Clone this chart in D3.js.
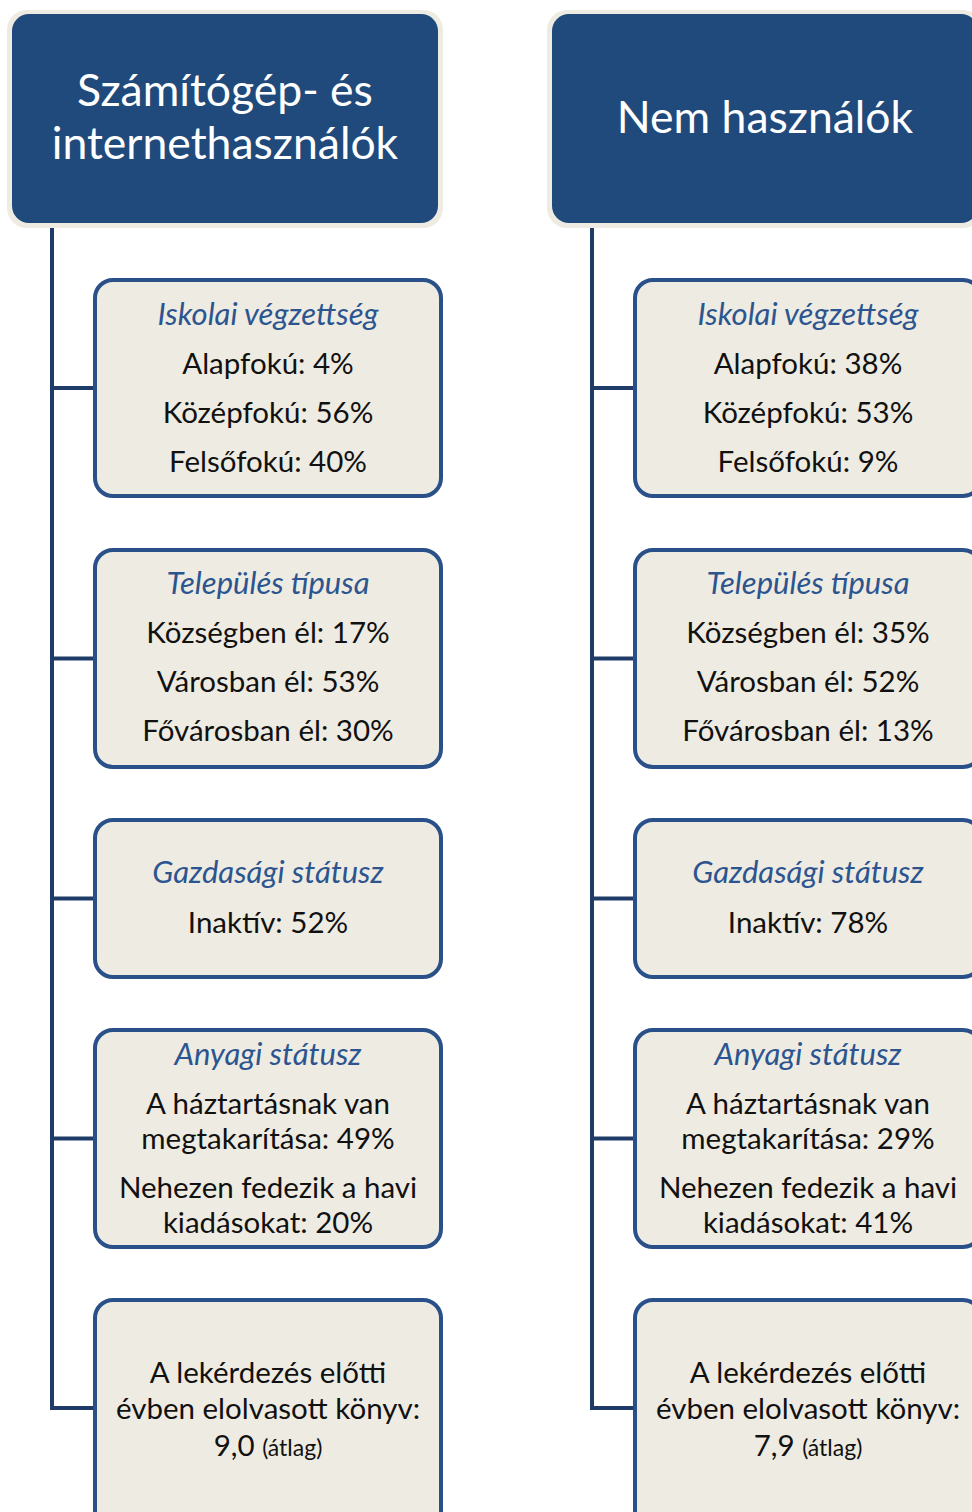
<!DOCTYPE html>
<html>
<head>
<meta charset="utf-8">
<script src="https://cdn.jsdelivr.net/npm/d3@7"></script>
<style>
  body { margin: 0; background: #fff; }
  svg { display: block; }
</style>
</head>
<body>
<div id="chart"></div>
<script>
'use strict';

// adatok
var groupNames = [['Számítógép- és', 'internethasználók'], ['Nem használók']];
var sectionTitles = ['Iskolai végzettség', 'Település típusa', 'Gazdasági státusz', 'Anyagi státusz', ''];

var iskolaiLabels = ['Alapfokú', 'Középfokú', 'Felsőfokú'];
var iskolaiValues = [[4, 56, 40], [38, 53, 9]];

var telepulesLabels = ['Községben él', 'Városban él', 'Fővárosban él'];
var telepulesValues = [[17, 53, 30], [35, 52, 13]];

var gazdasagiLabels = ['Inaktív'];
var gazdasagiValues = [[52], [78]];

var anyagiLabels = [['A háztartásnak van', 'megtakarítása'], ['Nehezen fedezik a havi', 'kiadásokat']];
var anyagiValues = [[49, 20], [29, 41]];

var konyvLabel = ['A lekérdezés előtti', 'évben elolvasott könyv:'];
var konyvValues = [9.0, 7.9];

var diagram = {};
diagram.width = 972;
diagram.height = 1512;
diagram.font = 'Lato, "Open Sans", sans-serif';
diagram.headerBlue = '#214a7c';
diagram.cream = '#eeebe2';
diagram.boxStroke = '#2a5089';
diagram.lineColor = '#1f3c69';
diagram.titleColor = '#2c5590';
diagram.bodySize = 29.5;
diagram.titleSize = 31;
diagram.headerSize = 44.5;

// dobozok függőleges elrendezése
diagram.boxTops = [280, 550, 820, 1030, 1300];
diagram.boxHeights = [216, 217, 157, 217, 240];
diagram.titleOffset = [45, 44, 63, 35, 0];
diagram.lineOffset = [94, 93, 113, 84, 83];

var fmtPct = function (v) { return v + '%'; };
var fmtKonyv = function (v) { return d3.format('.1f')(v).replace('.', ','); };

function buildSections(g) {
  var s = [];
  s.push({ title: sectionTitles[0], blocks: iskolaiLabels.map(function (l, i) { return [l + ': ' + fmtPct(iskolaiValues[g][i])]; }) });
  s.push({ title: sectionTitles[1], blocks: telepulesLabels.map(function (l, i) { return [l + ': ' + fmtPct(telepulesValues[g][i])]; }) });
  s.push({ title: sectionTitles[2], blocks: gazdasagiLabels.map(function (l, i) { return [l + ': ' + fmtPct(gazdasagiValues[g][i])]; }) });
  s.push({ title: sectionTitles[3], blocks: anyagiLabels.map(function (l, i) { return [l[0], l[1] + ': ' + fmtPct(anyagiValues[g][i])]; }) });
  s.push({ title: sectionTitles[4], blocks: [], konyv: fmtKonyv(konyvValues[g]) });
  return s;
}

var colX = d3.scaleBand().domain([0, 1]).range([7, 1087]).paddingInner(0);

var svg = d3.select('#chart').append('svg')
  .attr('width', diagram.width)
  .attr('height', diagram.height)
  .style('font-family', diagram.font);

[0, 1].forEach(function (g) {
  var x0 = colX(g);
  var col = svg.append('g').attr('transform', 'translate(' + x0 + ',0)');
  var sections = buildSections(g);

  // összekötő vonal
  var trunkX = 45;
  var boxX = 88;
  var boxW = 346;
  var lastMid = diagram.boxTops[4] + 108;
  col.append('line')
    .attr('x1', trunkX).attr('x2', trunkX)
    .attr('y1', 226).attr('y2', lastMid + 2)
    .attr('stroke', diagram.lineColor).attr('stroke-width', 4);
  diagram.boxTops.forEach(function (t, i) {
    var mid = i < 4 ? t + diagram.boxHeights[i] / 2 : lastMid;
    col.append('line')
      .attr('x1', trunkX - 2).attr('x2', boxX)
      .attr('y1', mid).attr('y2', mid)
      .attr('stroke', diagram.lineColor).attr('stroke-width', 4);
  });

  // fejléc
  col.append('rect')
    .attr('x', 0).attr('y', 10).attr('width', 436).attr('height', 218)
    .attr('rx', 20).attr('fill', diagram.cream);
  col.append('rect')
    .attr('x', 5).attr('y', 14).attr('width', 426).attr('height', 209)
    .attr('rx', 17).attr('fill', diagram.headerBlue);
  var hLines = groupNames[g];
  var hStart = hLines.length === 1 ? 133 : 106;
  hLines.forEach(function (t, i) {
    col.append('text')
      .attr('x', 218).attr('y', hStart + i * 53)
      .attr('text-anchor', 'middle')
      .attr('fill', '#fff')
      .attr('font-size', diagram.headerSize)
      .text(t);
  });

  // dobozok
  sections.forEach(function (sec, i) {
    var top = diagram.boxTops[i];
    var h = diagram.boxHeights[i];
    var cx = boxX + boxW / 2;
    col.append('rect')
      .attr('x', boxX).attr('y', top)
      .attr('width', boxW).attr('height', h)
      .attr('rx', 18)
      .attr('fill', diagram.cream)
      .attr('stroke', diagram.boxStroke)
      .attr('stroke-width', 4);

    if (sec.title) {
      col.append('text')
        .attr('x', cx).attr('y', top + diagram.titleOffset[i])
        .attr('text-anchor', 'middle')
        .attr('fill', diagram.titleColor)
        .attr('font-style', 'italic')
        .attr('font-size', diagram.titleSize)
        .text(sec.title);
    }
    var y = top + diagram.lineOffset[i];
    sec.blocks.forEach(function (b) {
      b.forEach(function (line, k) {
        col.append('text')
          .attr('x', cx).attr('y', y + k * 35)
          .attr('text-anchor', 'middle')
          .attr('fill', '#111')
          .attr('font-size', diagram.bodySize)
          .text(line);
      });
      y += (b.length - 1) * 35 + 49;
    });

    if (sec.konyv) {
      konyvLabel.forEach(function (line, k) {
        col.append('text')
          .attr('x', cx).attr('y', top + diagram.lineOffset[i] + k * 36)
          .attr('text-anchor', 'middle')
          .attr('fill', '#111')
          .attr('font-size', diagram.bodySize)
          .text(line);
      });
      var last = col.append('text')
        .attr('x', cx).attr('y', top + diagram.lineOffset[i] + 73)
        .attr('text-anchor', 'middle')
        .attr('fill', '#111')
        .attr('font-size', diagram.bodySize);
      last.append('tspan').text(sec.konyv + ' ');
      last.append('tspan').attr('font-size', 23).text('(átlag)');
    }
  });
});
</script>
</body>
</html>
